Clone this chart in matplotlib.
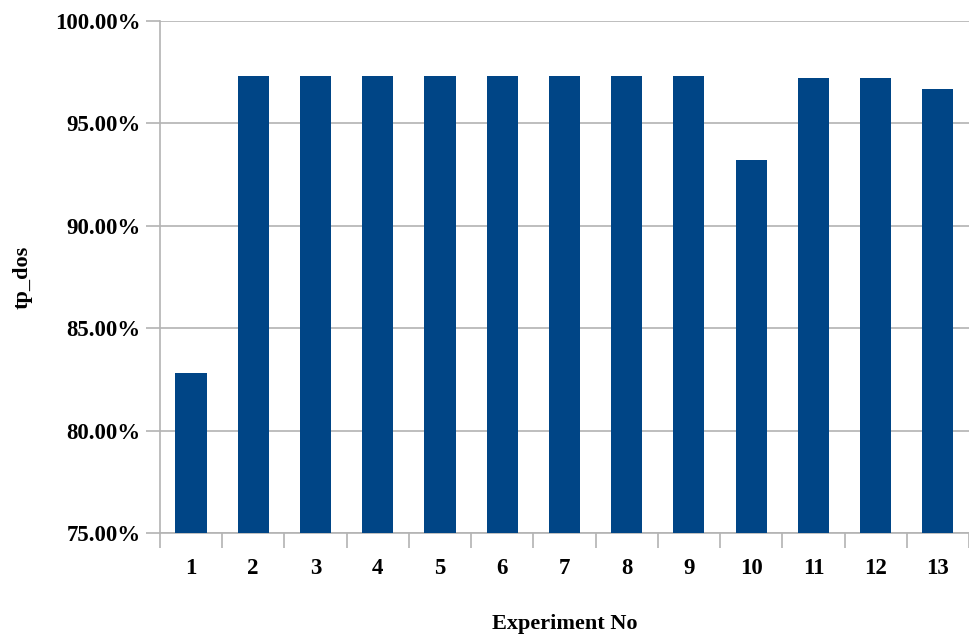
import matplotlib
matplotlib.use("Agg")
import matplotlib.pyplot as plt
from matplotlib.ticker import FuncFormatter

# data
experiments = [str(i) for i in range(1, 14)]
tp_dos = [82.8, 97.3, 97.3, 97.3, 97.3, 97.3, 97.3, 97.3, 97.3, 93.2, 97.2, 97.2, 96.7]

plt.rcParams['font.family'] = ['Liberation Serif', 'DejaVu Serif']
plt.rcParams['font.weight'] = 'bold'

fig = plt.figure(figsize=(9.69, 6.34), dpi=100)
ax = fig.add_axes([0.165, 0.159, 0.835, 0.808])

x = list(range(len(experiments)))
ax.bar(x, tp_dos, width=0.5, color='#004586', zorder=3)

ax.set_ylim(75, 100)
ax.set_xlim(-0.5, len(experiments) - 0.5)
ax.set_yticks([75, 80, 85, 90, 95, 100])
ax.yaxis.set_major_formatter(FuncFormatter(lambda v, p: '%.2f%%' % v))
ax.set_xticks(x)
ax.set_xticklabels(experiments)
# ticks between categories
ax.set_xticks([i - 0.5 for i in range(len(experiments) + 1)], minor=True)
ax.tick_params(axis='x', which='major', length=0, pad=18, labelsize=16.5)
ax.tick_params(axis='x', which='minor', length=11, color='#b3b3b3', width=1.2)
ax.tick_params(axis='y', length=10, color='#b3b3b3', width=1.2, pad=4, labelsize=16.5)

ax.grid(axis='y', color='#b3b3b3', linewidth=1.2, zorder=0)
for s in ['top', 'right']:
    ax.spines[s].set_visible(False)
for s in ['left', 'bottom']:
    ax.spines[s].set_color('#b3b3b3')
    ax.spines[s].set_linewidth(1.2)

ax.set_xlabel('Experiment No', fontsize=16, fontweight='bold', labelpad=25)
ax.set_ylabel('tp_dos', fontsize=16, fontweight='bold', labelpad=16)

fig.savefig('out.png', dpi=100)
